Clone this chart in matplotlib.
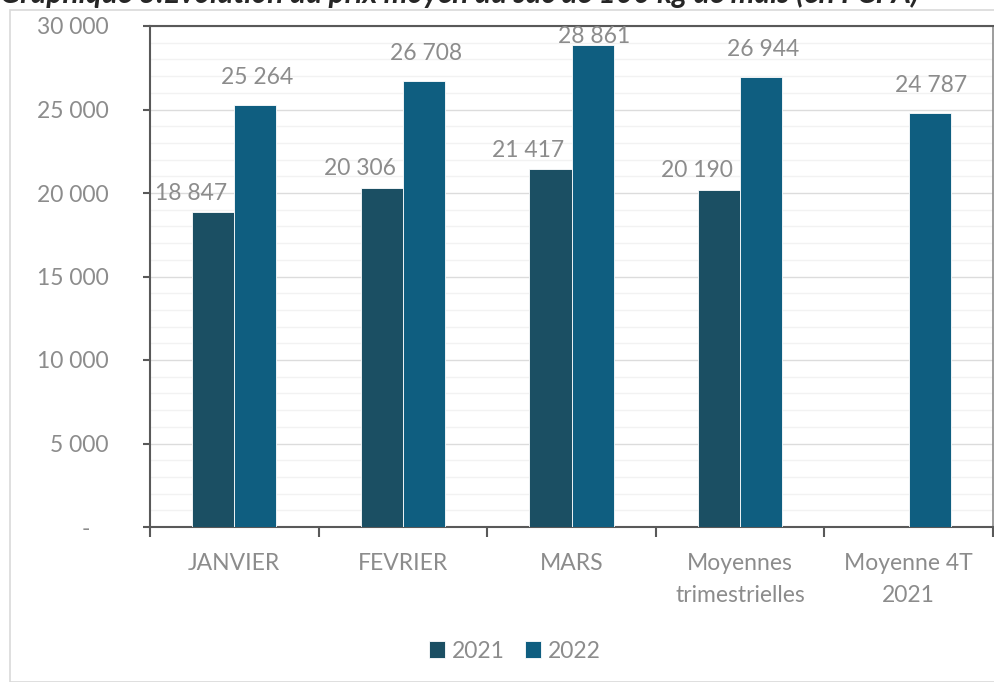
import matplotlib
matplotlib.use("Agg")
import matplotlib.pyplot as plt
import numpy as np
from matplotlib.ticker import MultipleLocator, FuncFormatter
from matplotlib.patches import Rectangle

categories = ["JANVIER", "FEVRIER", "MARS", "Moyennes\ntrimestrielles", "Moyenne 4T\n2021"]
series_2021 = [18847, 20306, 21417, 20190, np.nan]
series_2022 = [25264, 26708, 28861, 26944, 24787]
series_names = ["2021", "2022"]
title = "Graphique 3:Evolution du prix moyen du sac de 100 kg de maïs (en FCFA)"

col21 = "#1b4f63"
col22 = "#0f5e80"
txt = "#8c8c8c"
fs = 16.5

plt.rcParams['font.family'] = ['Lato', 'DejaVu Sans']

fig = plt.figure(figsize=(9.94, 6.82), dpi=100)
fig.patches.append(Rectangle((10/994, 0), 1, 1 - 10/682, transform=fig.transFigure,
                             fill=False, edgecolor="#d9d9d9", lw=1.2, zorder=0))
ax = fig.add_axes([150/994, 1 - 527/682, 843/994, 501/682])

x = np.arange(len(categories))
w = 0.25
ax.bar(x - w/2, series_2021, w, color=col21, edgecolor="white", linewidth=0.6, label=series_names[0], zorder=3)
ax.bar(x + w/2, series_2022, w, color=col22, edgecolor="white", linewidth=0.6, label=series_names[1], zorder=3)

def fmt(v):
    return f"{int(v):,}".replace(",", " ")

for xi, v in zip(x, series_2021):
    if not np.isnan(v):
        ax.text(xi - w/2 - 0.13, v + 1150, fmt(v), ha="center", va="center",
                fontsize=fs, color=txt, zorder=4)
for xi, v in zip(x, series_2022):
    ax.text(xi + w/2 + 0.01, min(v + 1650, 29400), fmt(v), ha="center", va="center",
            fontsize=fs, color=txt, zorder=4)

ax.set_xlim(-0.5, len(categories) - 0.5)
ax.set_ylim(0, 30000)
ax.yaxis.set_major_locator(MultipleLocator(5000))
ax.yaxis.set_minor_locator(MultipleLocator(1000))
ax.yaxis.set_major_formatter(FuncFormatter(lambda v, p: "-   " if v == 0 else fmt(v)))
ax.grid(axis="y", which="major", color="#dcdcdc", lw=1.0, zorder=0)
ax.grid(axis="y", which="minor", color="#f2f2f2", lw=1.0, zorder=0)
ax.tick_params(axis="y", which="minor", length=0)
ax.tick_params(axis="y", which="major", length=5, width=1.5, color="#595959",
               pad=25, labelsize=fs, labelcolor=txt)

ax.set_xticks(x)
ax.set_xticklabels(categories)
ax.set_xticks(np.arange(-0.5, len(categories)), minor=True)
ax.tick_params(axis="x", which="major", length=0, pad=19, labelsize=fs, labelcolor=txt)
ax.tick_params(axis="x", which="minor", length=7, width=1.5, color="#595959")
for lbl in ax.get_xticklabels():
    lbl.set_linespacing(1.65)

for side in ["left", "bottom", "top"]:
    ax.spines[side].set_color("#595959")
    ax.spines[side].set_linewidth(1.5)
ax.spines["right"].set_color("#8c8c8c")
ax.spines["right"].set_linewidth(1.2)

leg = fig.legend(loc="center", bbox_to_anchor=(515/994, 1 - 651/682), ncol=2, frameon=False,
                 fontsize=fs, handlelength=0.7, handleheight=0.7, handletextpad=0.3,
                 columnspacing=0.9)
for t in leg.get_texts():
    t.set_color(txt)

fig.text(0/994, 1 - 3/682, title, ha="left", va="baseline", fontsize=21.5,
         fontweight="bold", fontstyle="italic", color="#262626")

fig.savefig("out.png", dpi=100)
